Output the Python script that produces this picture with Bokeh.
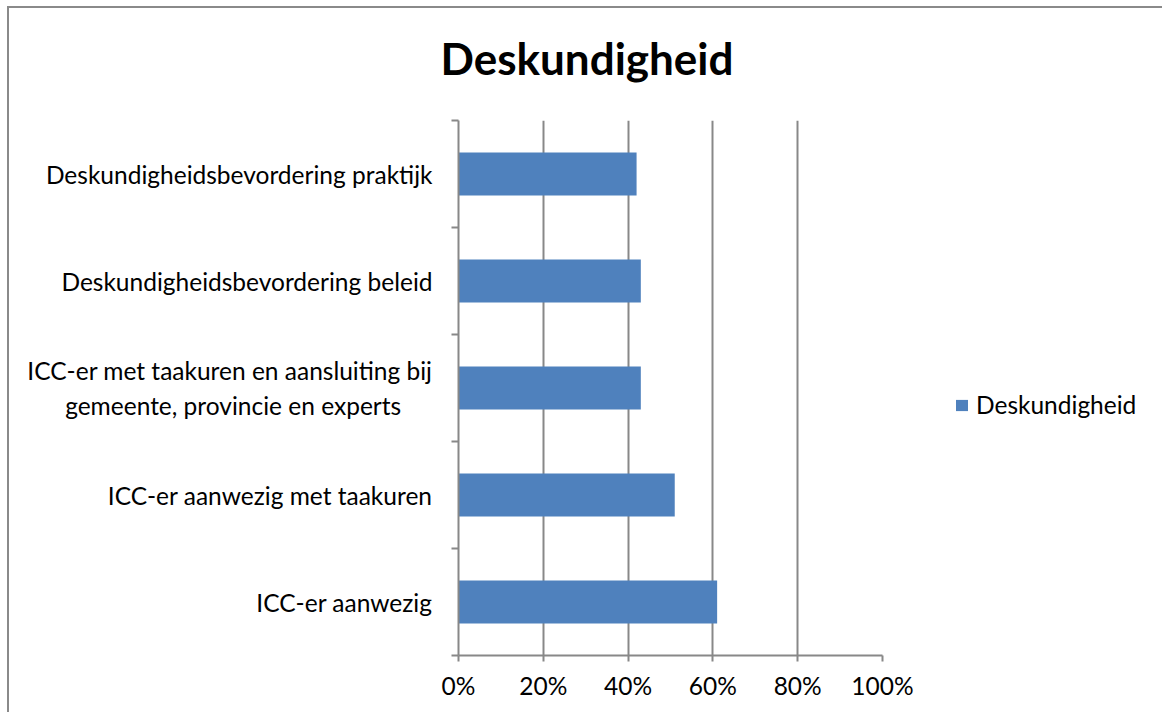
from bokeh.plotting import figure
from bokeh.models import (ColumnDataSource, FixedTicker, Legend, LegendItem,
                          Range1d, Title)
from bokeh.embed import file_html
from bokeh.resources import INLINE

NBSP = "\u00A0"
categories = [
    "ICC-er aanwezig",
    "ICC-er aanwezig met taakuren",
    "ICC-er met taakuren en aansluiting bij\ngemeente, provincie en experts" + NBSP * 5,
    "Deskundigheidsbevordering beleid",
    "Deskundigheidsbevordering praktijk",
]
values = [0.61, 0.51, 0.43, 0.43, 0.42]
series_name = "Deskundigheid"
x_ticks = [0, 0.2, 0.4, 0.6, 0.8, 1.0]
x_tick_labels = ["0%", "20%", "40%", "60%", "80%", "100%"]

FONT = "Lato"
FS = "24.5px"
GRID = "#888888"
GW = 2
BAR = "#4F81BD"

pos = [i + 0.5 for i in range(len(categories))]
src = ColumnDataSource(dict(y=pos, v=values))

p = figure(width=1152, height=704, output_backend="svg", toolbar_location=None,
           x_range=Range1d(0, 1), y_range=Range1d(0, len(categories)),
           frame_width=424, frame_height=535,
           min_border_left=449, min_border_top=112, min_border_bottom=57,
           min_border_right=279)
p.styles = {"margin-left": "7px", "margin-top": "6px",
            "border-left": "2px solid #8a8a8a", "border-top": "2px solid #8a8a8a",
            "border-right": "1px solid #e6e6e6"}
p.outline_line_color = None
p.background_fill_color = "white"
p.border_fill_color = "white"

r = p.hbar(y="y", right="v", left=0, height=0.4, source=src,
           fill_color=BAR, line_color=None)

spacer = Title(text=" ", text_font_size="1px", standoff=13)
p.add_layout(spacer, "above")
t = Title(text="Deskundigheid", text_font=FONT, text_font_size="44px",
          text_font_style="bold", text_color="black",
          align="left", offset=-18, standoff=42)
p.add_layout(t, "above")

# x axis
p.xaxis.ticker = FixedTicker(ticks=x_ticks)
p.xaxis.major_label_overrides = {t_: l for t_, l in zip(x_ticks, x_tick_labels)}
p.xaxis.major_label_text_font = FONT
p.xaxis.major_label_text_font_size = FS
p.xaxis.major_label_text_color = "black"
p.xaxis.axis_line_color = GRID
p.xaxis.axis_line_width = GW
p.xaxis.major_tick_line_color = GRID
p.xaxis.major_tick_line_width = GW
p.xaxis.major_tick_out = 6
p.xaxis.major_tick_in = 0
p.xaxis.minor_tick_line_color = None
p.xaxis.major_label_standoff = 9

# y axis
p.yaxis.ticker = FixedTicker(ticks=pos, minor_ticks=list(range(len(categories) + 1)))
p.yaxis.major_label_overrides = {pp: c for pp, c in zip(pos, categories)}
p.yaxis.major_label_text_font = FONT
p.yaxis.major_label_text_font_size = FS
p.yaxis.major_label_text_color = "black"
p.yaxis.axis_line_color = GRID
p.yaxis.axis_line_width = GW
p.yaxis.major_tick_line_color = None
p.yaxis.major_tick_out = 0
p.yaxis.major_tick_in = 0
p.yaxis.minor_tick_line_color = GRID
p.yaxis.minor_tick_line_width = GW
p.yaxis.minor_tick_out = 7
p.yaxis.minor_tick_in = 0
p.yaxis.major_label_standoff = 19

p.xgrid.grid_line_color = GRID
p.xgrid.grid_line_width = GW
p.ygrid.grid_line_color = None

legend = Legend(items=[LegendItem(label=series_name, renderers=[r])],
                location=(72, 236), orientation="vertical",
                label_text_font=FONT, label_text_font_size=FS,
                label_text_color="black",
                glyph_width=15, glyph_height=14, label_standoff=7,
                padding=0, margin=0, border_line_color=None,
                background_fill_alpha=0)
p.add_layout(legend, "right")

open("out.html", "w").write(file_html(p, INLINE))
